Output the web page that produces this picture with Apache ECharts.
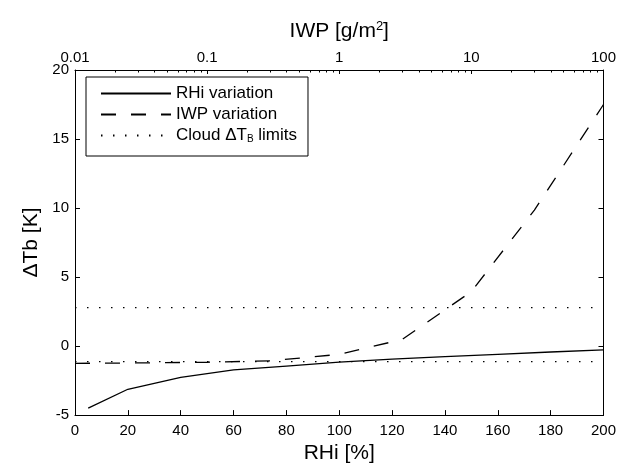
<!DOCTYPE html>
<html><head><meta charset="utf-8">
<script src="https://cdn.jsdelivr.net/npm/echarts@6/dist/echarts.min.js"></script>
<style>html,body{margin:0;padding:0;background:#fff}#c{width:619px;height:469px}</style>
</head><body><div id="c"></div>
<script>
// RHi variation (bottom axis, RHi [%])
const rhiValues = [5, 20, 40, 60, 80, 100, 120, 140, 160, 180, 200];
const dTbRhi    = [-4.5, -3.13, -2.26, -1.73, -1.45, -1.16, -0.95, -0.77, -0.6, -0.43, -0.27];
// IWP variation (top axis, IWP [g/m2], log)
const iwpValues = [0.01, 0.03, 0.1, 0.3, 1, 3, 10, 30, 100];
const dTbIwp    = [-1.25, -1.22, -1.17, -1.07, -0.6, 0.48, 3.95, 9.85, 17.5];
// Cloud ΔT_B limits
const cloudLimits = [2.78, -1.13];
// tick labels
const iwpTickLabels = ['0.01', '0.1', '1', '10', '100'];
const rhiRange = [0, 200];
const yRange = [-5, 20];

const FONT = 'Liberation Sans, Arial, sans-serif';
const minorTicks = [];
for (let d = -2; d < 2; d++) for (let k = 2; k <= 9; k++) minorTicks.push(d + Math.log10(k));

const chart = echarts.init(document.getElementById('c'), null, {renderer: 'canvas'});
const tickStyle = {show: true, inside: true, length: 5, lineStyle: {color: '#000', width: 1}};
const lineAx = {show: true, onZero: false, lineStyle: {color: '#000', width: 1}};
const labelStyle = {color: '#000', fontSize: 15, fontFamily: FONT};

const series = [
  {name: 'RHi variation', type: 'line', xAxisIndex: 0, yAxisIndex: 0, symbol: 'none',
   data: rhiValues.map((v, i) => [v, dTbRhi[i]]),
   lineStyle: {color: '#000', width: 1.3}, itemStyle: {color: '#000'}},
  {name: 'IWP variation', type: 'line', xAxisIndex: 1, yAxisIndex: 0, symbol: 'none',
   data: iwpValues.map((v, i) => [v, dTbIwp[i]]),
   lineStyle: {color: '#000', width: 1.3, type: [15, 15]}, itemStyle: {color: '#000'}}
];
cloudLimits.forEach(v => series.push({
  name: 'cloud', type: 'line', xAxisIndex: 0, yAxisIndex: 0, symbol: 'none',
  data: [[rhiRange[0], v], [rhiRange[1], v]],
  lineStyle: {color: '#000', width: 1.3, type: [1.5, 10.5]}, itemStyle: {color: '#000'}
}));

chart.setOption({
  animation: false,
  backgroundColor: '#fff',
  textStyle: {fontFamily: FONT},
  grid: {left: 75, top: 70, right: 15, bottom: 52},
  legend: {
    orient: 'vertical', left: 86, top: 77,
    data: ['RHi variation', 'IWP variation', 'cloud'],
    itemWidth: 70, itemHeight: 14, itemGap: 2,
    padding: [7, 11, 11, 14],
    borderColor: '#000', borderWidth: 1, backgroundColor: '#fff',
    itemStyle: {opacity: 0},
    textStyle: {color: '#000', fontSize: 17, lineHeight: 19, fontFamily: FONT,
      rich: {sub: {fontSize: 10, color: '#000', lineHeight: 19, padding: [8, 0, 0, 0]}}},
    formatter: name => name === 'cloud' ? 'Cloud ΔT{sub|B} limits' : name
  },
  xAxis: [
    {type: 'value', position: 'bottom', min: rhiRange[0], max: rhiRange[1], interval: 20,
     axisLine: lineAx, axisTick: tickStyle, splitLine: {show: false},
     axisLabel: Object.assign({margin: 8}, labelStyle),
     name: 'RHi [%]', nameLocation: 'middle', nameGap: 27,
     nameTextStyle: {color: '#000', fontSize: 21, fontFamily: FONT}},
    {type: 'log', logBase: 10, position: 'top', min: 0.01, max: 100,
     axisLine: lineAx, axisTick: Object.assign({}, tickStyle, {length: 4}), splitLine: {show: false},
     axisLabel: Object.assign({margin: 5, formatter: (v, i) => iwpTickLabels[i]}, labelStyle),
     name: 'IWP [g/m{sup|2}]', nameLocation: 'middle', nameGap: 27,
     nameTextStyle: {color: '#000', fontSize: 21, fontFamily: FONT,
       rich: {sup: {fontSize: 13, color: '#000', verticalAlign: 'top', padding: [0, 0, 10, 0]}}}},
    {type: 'value', position: 'top', min: -2, max: 2,
     axisLine: {show: false, onZero: false}, splitLine: {show: false}, axisLabel: {show: false},
     axisTick: {show: true, inside: true, length: 2.5, customValues: minorTicks, lineStyle: {color: '#000', width: 1}}}
  ],
  yAxis: [
    {type: 'value', position: 'left', min: yRange[0], max: yRange[1], interval: 5,
     axisLine: lineAx, axisTick: tickStyle, splitLine: {show: false},
     axisLabel: Object.assign({margin: 6}, labelStyle),
     name: 'ΔTb [K]', nameLocation: 'middle', nameGap: 32, nameRotate: 90,
     nameTextStyle: {color: '#000', fontSize: 21, fontFamily: FONT}},
    {type: 'value', position: 'right', min: yRange[0], max: yRange[1], interval: 5,
     axisLine: lineAx, axisTick: tickStyle, splitLine: {show: false}, axisLabel: {show: false}}
  ],
  series: series
});
</script></body></html>
